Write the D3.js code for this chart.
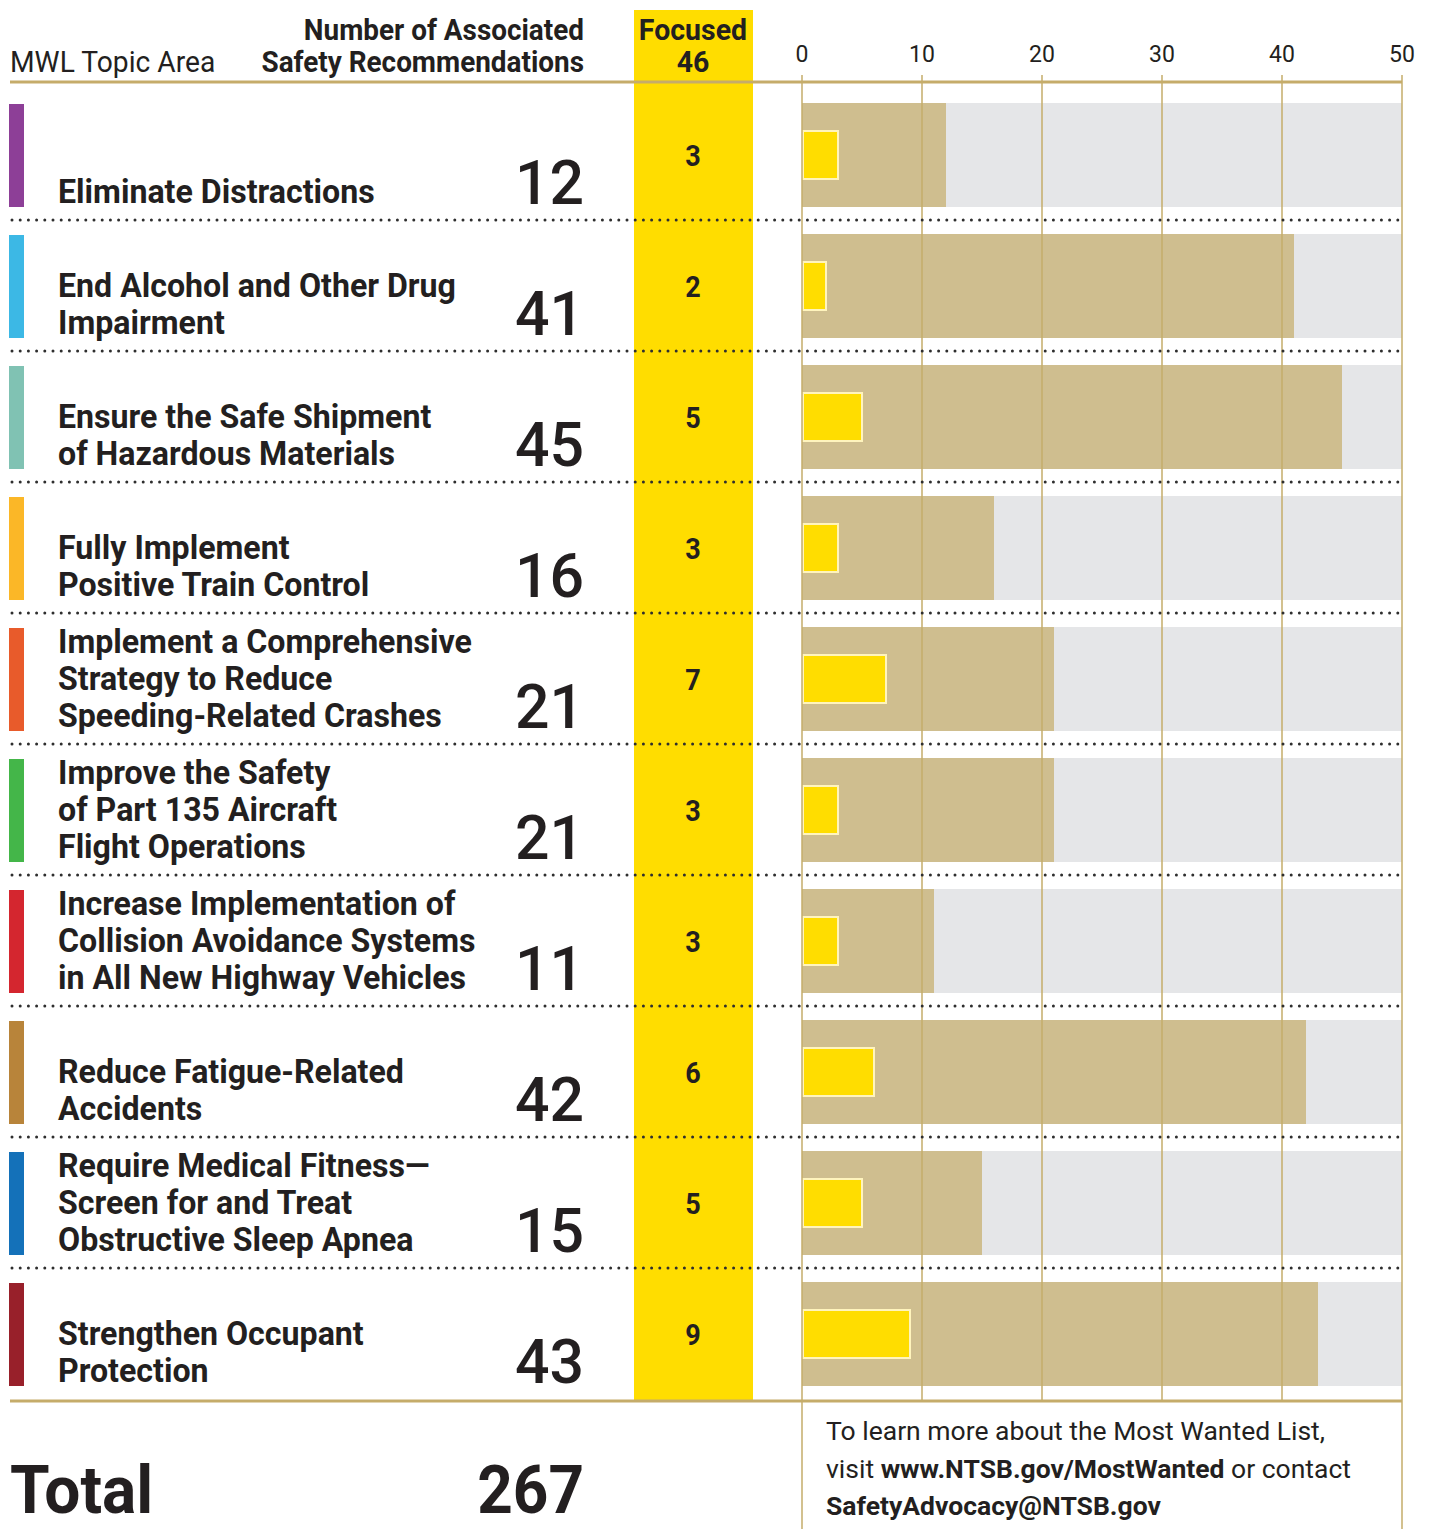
<!DOCTYPE html>
<html>
<head>
<meta charset="utf-8">
<script src="https://cdn.jsdelivr.net/npm/d3@7"></script>
<style>
  body { margin: 0; background: #fff; }
  text { font-family: Roboto, "Open Sans", sans-serif; fill: #231f20; }
</style>
</head>
<body>
<div id="chart"></div>
<script>
// data
var topics = [
  'Eliminate Distractions',
  'End Alcohol and Other Drug Impairment',
  'Ensure the Safe Shipment of Hazardous Materials',
  'Fully Implement Positive Train Control',
  'Implement a Comprehensive Strategy to Reduce Speeding-Related Crashes',
  'Improve the Safety of Part 135 Aircraft Flight Operations',
  'Increase Implementation of Collision Avoidance Systems in All New Highway Vehicles',
  'Reduce Fatigue-Related Accidents',
  'Require Medical Fitness—Screen for and Treat Obstructive Sleep Apnea',
  'Strengthen Occupant Protection'
];
var topicLines = [
  ['Eliminate Distractions'],
  ['End Alcohol and Other Drug', 'Impairment'],
  ['Ensure the Safe Shipment', 'of Hazardous Materials'],
  ['Fully Implement', 'Positive Train Control'],
  ['Implement a Comprehensive', 'Strategy to Reduce', 'Speeding-Related Crashes'],
  ['Improve the Safety', 'of Part 135 Aircraft', 'Flight Operations'],
  ['Increase Implementation of', 'Collision Avoidance Systems', 'in All New Highway Vehicles'],
  ['Reduce Fatigue-Related', 'Accidents'],
  ['Require Medical Fitness\u2014', 'Screen for and Treat', 'Obstructive Sleep Apnea'],
  ['Strengthen Occupant', 'Protection']
];
var recommendations = [12, 41, 45, 16, 21, 21, 11, 42, 15, 43];
var focused = [3, 2, 5, 3, 7, 3, 3, 6, 5, 9];
var topicColors = ['#8d3f97', '#3cb8e5', '#80c2b3', '#fbb727', '#e85b2b',
                   '#44b649', '#d4262f', '#b8843a', '#1471b9', '#98202a'];
var ticks = [0, 10, 20, 30, 40, 50];
var totalRecs = 267;
var totalFocused = 46;

var W = 1434, H = 1529;

var svg = d3.select('#chart').append('svg')
  .attr('width', W).attr('height', H);

var x = d3.scaleLinear().domain([0, 50]).range([802, 1402]);
var y = d3.scaleBand().domain(topics).range([103, 1386])
  .paddingInner(27 / 131).paddingOuter(0);

// text squeezed horizontally to look like a condensed face
function ctext(g, str, px, py, size, weight, anchor, sx) {
  return g.append('text')
    .attr('transform', 'translate(' + px + ',' + py + ') scale(' + sx + ',1)')
    .attr('text-anchor', anchor || 'start')
    .style('font-size', size + 'px')
    .style('font-weight', weight)
    .text(str);
}

// yellow "focused" column
svg.append('rect')
  .attr('x', 634).attr('y', 10).attr('width', 119).attr('height', 1391)
  .attr('fill', '#ffdd00');

// background bars
var rows = svg.append('g').selectAll('g').data(topics).enter().append('g');

rows.append('rect')
  .attr('x', x(0)).attr('y', function (d) { return y(d); })
  .attr('width', x(50) - x(0)).attr('height', y.bandwidth())
  .attr('fill', '#e5e6e8');

rows.append('rect')
  .attr('x', x(0)).attr('y', function (d) { return y(d); })
  .attr('width', function (d, i) { return x(recommendations[i]) - x(0); })
  .attr('height', y.bandwidth())
  .attr('fill', '#cfbe8f');

// grid
svg.append('g').selectAll('line').data(ticks).enter().append('line')
  .attr('x1', function (d) { return x(d); })
  .attr('x2', function (d) { return x(d); })
  .attr('y1', 75)
  .attr('y2', function (d) { return (d === 0 || d === 50) ? H : 1401; })
  .attr('stroke', '#c5ac6a').attr('stroke-width', 1.5);

// focused bars
rows.append('rect')
  .attr('x', x(0) + 1)
  .attr('y', function (d) { return y(d) + y.bandwidth() / 2 - 24; })
  .attr('width', function (d, i) { return x(focused[i]) - x(0) - 1; })
  .attr('height', 48)
  .attr('fill', '#ffdd00')
  .attr('stroke', '#fff4bd').attr('stroke-width', 2);

// colour stripes
rows.append('rect')
  .attr('x', 9).attr('y', function (d) { return y(d) + 1; })
  .attr('width', 15).attr('height', y.bandwidth() - 1)
  .attr('fill', function (d, i) { return topicColors[i]; });

// dotted separators
svg.append('g').selectAll('line').data(topics.slice(0, -1)).enter().append('line')
  .attr('x1', 12).attr('x2', 1402)
  .attr('y1', function (d) { return y(d) + y.bandwidth() + 13; })
  .attr('y2', function (d) { return y(d) + y.bandwidth() + 13; })
  .attr('stroke', '#2e2e2e').attr('stroke-width', 3)
  .attr('stroke-linecap', 'round').attr('stroke-dasharray', '0 8.2');

// header and footer rules
[82, 1401].forEach(function (yy) {
  svg.append('line').attr('x1', 10).attr('x2', 1402).attr('y1', yy).attr('y2', yy)
    .attr('stroke', '#c5ac6a').attr('stroke-width', 3);
});

// tick labels
svg.append('g').selectAll('text').data(ticks).enter().append('text')
  .attr('x', function (d) { return x(d); }).attr('y', 62)
  .attr('text-anchor', 'middle')
  .style('font-size', '23px')
  .text(function (d) { return d; });

// headers
ctext(svg, 'MWL Topic Area', 10, 72, 30, 400, 'start', 0.94);
ctext(svg, 'Number of Associated', 584, 40, 30, 700, 'end', 0.93);
ctext(svg, 'Safety Recommendations', 584, 72, 30, 700, 'end', 0.93);
ctext(svg, 'Focused', 693, 40, 30, 700, 'middle', 0.95);
ctext(svg, totalFocused, 693, 72, 30, 700, 'middle', 0.95);

// row texts
rows.each(function (d, i) {
  var g = d3.select(this);
  var top = y(d);
  var lines = topicLines[i];
  lines.forEach(function (ln, j) {
    ctext(g, ln, 58, top + 100 - (lines.length - 1 - j) * 37, 34, 700, 'start', 0.945);
  });
  ctext(g, recommendations[i], 584, top + 101, 62, 500, 'end', 0.98);
  ctext(g, focused[i], 693, top + 63, 30, 700, 'middle', 0.9);
});

// totals
ctext(svg, 'Total', 10, 1513, 66, 700, 'start', 0.97);
ctext(svg, totalRecs, 584, 1513, 66, 700, 'end', 0.94);

// footer note
var note = svg.append('text').attr('x', 826).style('font-size', '26.5px');
note.append('tspan').attr('x', 826).attr('y', 1440).text('To learn more about the Most Wanted List,');
var l2 = note.append('tspan').attr('x', 826).attr('y', 1478);
l2.append('tspan').text('visit ');
l2.append('tspan').style('font-weight', 700).text('www.NTSB.gov/MostWanted');
l2.append('tspan').text(' or contact');
note.append('tspan').attr('x', 826).attr('y', 1515).style('font-weight', 700).text('SafetyAdvocacy@NTSB.gov');
</script>
</body>
</html>
